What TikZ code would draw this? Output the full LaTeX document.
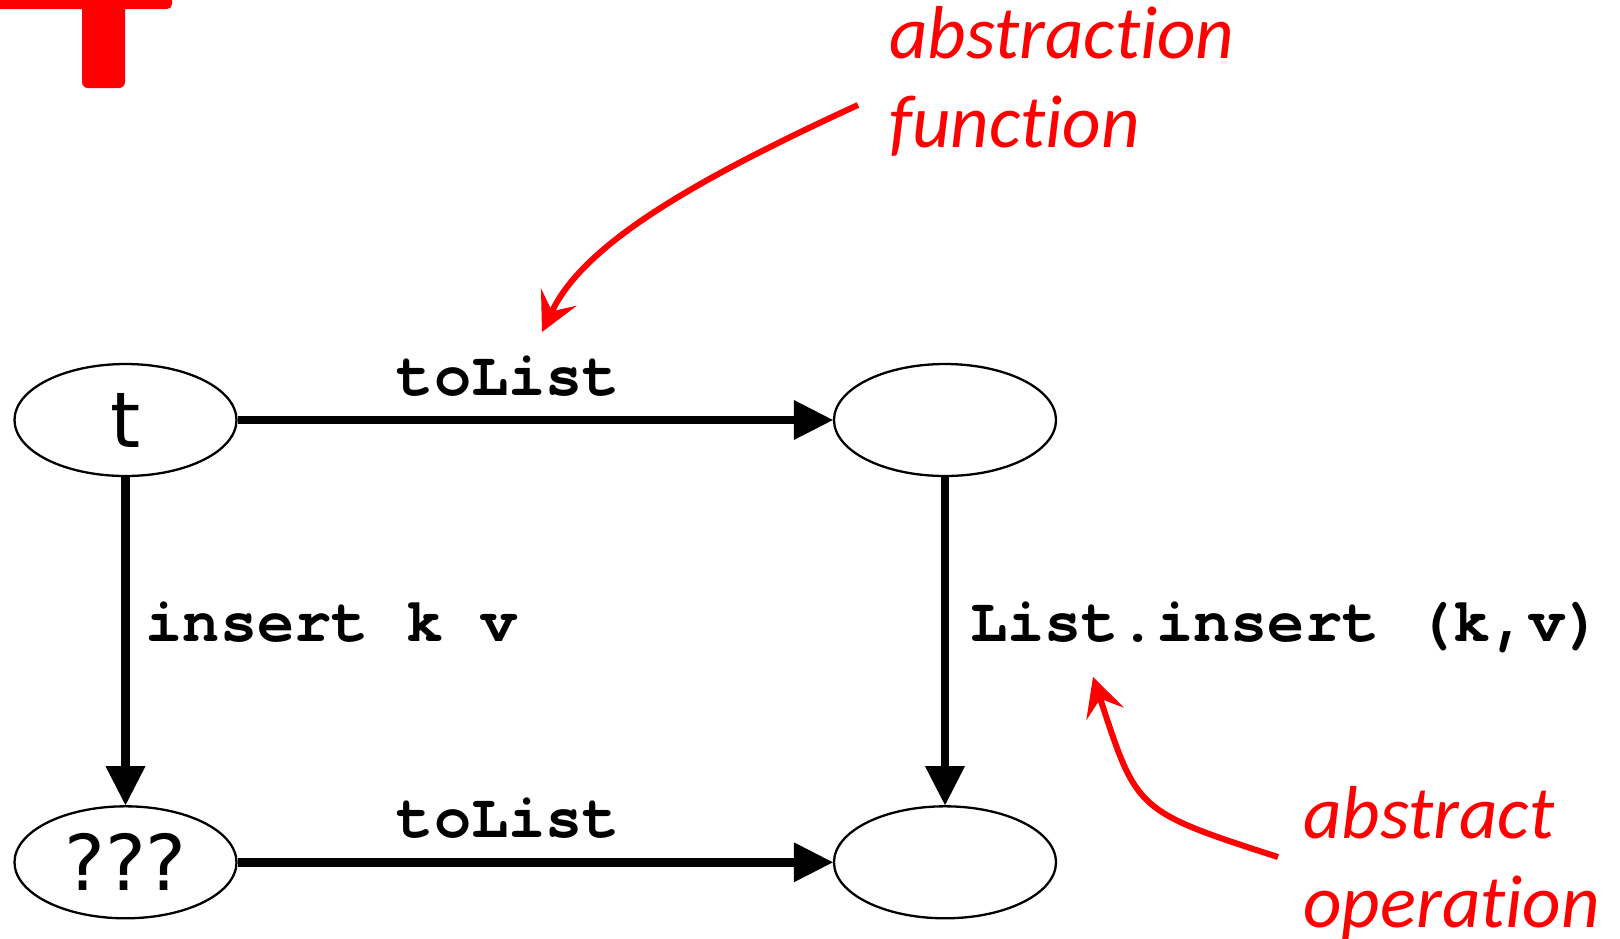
\documentclass[tikz,border=0pt]{standalone}
\usepackage{fontspec}
\setmainfont{DejaVu Sans}
\newfontfamily\codeFont{texgyrecursor}[Extension=.otf, UprightFont=*-regular, BoldFont=*-bold]
\newfontfamily\noteFont{Carlito}[Ligatures=NoCommon]
\usetikzlibrary{shapes.geometric, arrows.meta, positioning}
\definecolor{noteRed}{RGB}{255, 0, 0}
\tikzset{
    % Value Ellipse Style
    stateNode/.style={
        ellipse,
        draw=black,
        line width=1.15pt,
        minimum width=111pt,
        minimum height=56pt,
        inner sep=0pt,
        font=\fontsize{38.5}{44}\selectfont
    },
    % Label Styles
    codeLabel/.style={font=\codeFont\bfseries\fontsize{31}{37}\selectfont, inner sep=0pt},
    noteLabel/.style={font=\noteFont\itshape\fontsize{37.5}{44.5}\selectfont, text=noteRed, align=left, inner sep=0pt, anchor=base west},
    % Arrow Styles
    arrow/.style={-{Triangle[length=19.5pt, width=20pt, line width=0pt]}, line width=4.25pt},
    noteArrow/.style={-{Stealth[length=19.5pt, width=20pt, inset=8pt, line width=0pt]}, line width=3pt, draw=noteRed}
}

\begin{document}
\begin{tikzpicture}[
    x=0.5pt, y=-0.5pt,
    node distance=164pt and 297.6pt
]
    \useasboundingbox (0,0) rectangle (1620,938);

    % --- Corner of the red mark (cut off by the page) ---
    \fill [noteRed] (-20,-20) -- (172,-20) [rounded corners=2.5pt] -- (172,9) [sharp corners] -- (125,9)
        [rounded corners=3pt] -- (125,88) -- (82,88) [sharp corners] -- (82,9) -- (-20,9) -- cycle;

    % --- The square of values ---

    % 1. Concrete value
    \node (t) [stateNode] at (125.5,420) {t};

    % 2. Its list
    \node (tList) [stateNode, right=of t] {};

    % 3. After the insert
    \node (tNew) [stateNode, below=of t] {???};

    % 4. List after the insert
    \node (tNewList) [stateNode, below=of tList] {};

    % --- Arrows ---
    \draw [arrow] (t) -- node [codeLabel, pos=0.455, anchor=base, yshift=12.5pt] {toList} (tList);
    \draw [arrow] (t) -- node [codeLabel, midway, anchor=base west, xshift=8pt] {insert k v} (tNew);
    \draw [arrow] (tList) -- node [codeLabel, midway, anchor=base west, xshift=10.5pt] {List.insert (k,v)} (tNewList);
    \draw [arrow] (tNew) -- node [codeLabel, pos=0.455, anchor=base, yshift=12.5pt] {toList} (tNewList);

    % --- Red notes (base = last line) ---
    \node (absFn) [noteLabel] at (889,147) {abstraction\\function};
    \node (absOp) [noteLabel] at (1303,927) {abstract\\operation};

    \coordinate (absFnTail) at (858,105);
    \coordinate (absFnTip) at (542,332);
    \coordinate (absOpTail) at (1278,857);
    \coordinate (absOpTip) at (1093,677);

    \draw [noteArrow] (absFnTail) .. controls (690,182) and (584,245) .. (absFnTip);
    \draw [noteArrow] (absOpTail) .. controls (1135,811) and (1137,810) .. (absOpTip);

\end{tikzpicture}
\end{document}
